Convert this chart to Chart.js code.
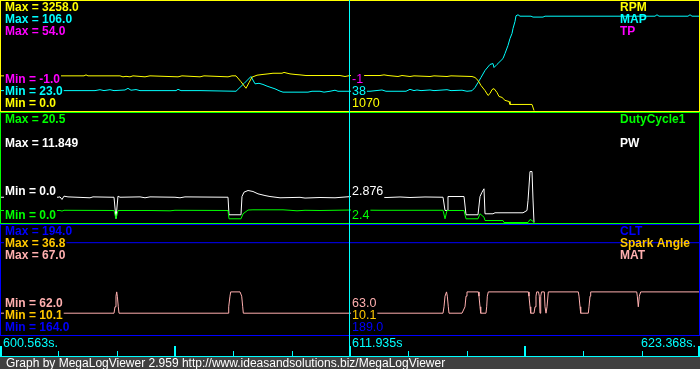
<!DOCTYPE html>
<html>
<head>
<meta charset="utf-8">
<title>MegaLogViewer</title>
<script src="https://cdn.jsdelivr.net/npm/chart.js@4.4.1/dist/chart.umd.min.js"></script>
<style>
  html, body { margin: 0; padding: 0; background: #000; }
  canvas { display: block; }
</style>
</head>
<body>
<canvas id="logChart" width="700" height="369"></canvas>
<script>
// visible time window (s)
const startTime = 600.563;
const endTime = 623.368;
const cursorTime = 611.935;
const timeLabels = ['600.563s.', '611.935s', '623.368s.'];
const footerText = 'Graph by MegaLogViewer 2.959 http://www.ideasandsolutions.biz/MegaLogViewer';

const seriesNames = ['RPM', 'MAP', 'TP', 'DutyCycle1', 'PW', 'CLT', 'Spark Angle', 'MAT'];
const seriesPanel = [0, 0, 0, 1, 1, 2, 2, 2];
const seriesMax = [3258.0, 106.0, 54.0, 20.5, 11.849, 194.0, 36.8, 67.0];
const seriesMin = [0.0, 23.0, -1.0, 0.0, 0.0, 164.0, 10.1, 62.0];
const cursorValues = ['1070', '38', '-1', '2.4', '2.876', '189.0', '10.1', '63.0'];

const rpmTime = [600.563, 601.540, 602.453, 603.300, 603.365, 603.430, 604.472, 604.570, 604.668, 604.798,
  604.896, 605.287, 605.450, 606.362, 606.492, 607.079, 607.209, 607.991, 608.121, 608.252,
  608.414, 608.577, 608.675, 608.773, 608.936, 609.099, 609.294, 609.457, 609.750, 609.815,
  610.011, 610.206, 610.337, 610.532, 611.640, 611.803, 611.966, 612.943, 613.073, 613.204,
  613.529, 613.660, 613.920, 614.051, 614.572, 614.702, 615.126, 615.256, 615.940, 616.038,
  616.136, 616.233, 616.364, 616.462, 616.527, 616.592, 616.657, 616.755, 616.820, 616.918,
  617.015, 617.146, 617.178, 617.895, 617.960];
const rpmValues = [1060, 1060, 1060, 1060, 1090, 1060, 1060, 1030, 1045, 1030,
  1060, 1030, 1060, 1030, 1060, 1030, 1060, 1030, 1060, 1060,
  880, 680, 850, 1020, 1080, 1100, 1120, 1140, 1140, 1165,
  1120, 1100, 1090, 1070, 1070, 1040, 1070, 1070, 1090, 1070,
  1040, 1070, 1040, 1060, 1040, 1060, 1040, 1060, 1040, 1010,
  920, 765, 610, 460, 520, 640, 670, 550, 430, 400,
  310, 275, 185, 185, 0];

const mapTime = [600.563, 602.615, 603.658, 603.821, 603.951, 604.147, 604.277, 604.635, 604.733, 604.831,
  604.994, 605.124, 606.297, 606.362, 606.460, 607.079, 608.252, 608.512, 608.740, 608.871,
  609.001, 609.131, 609.262, 609.359, 609.522, 609.685, 609.783, 610.597, 610.728, 610.988,
  611.119, 611.314, 611.477, 611.575, 611.966, 612.617, 613.008, 613.138, 613.790, 613.920,
  614.051, 614.148, 614.279, 614.572, 614.702, 615.126, 615.256, 615.615, 615.777, 615.940,
  616.038, 616.136, 616.233, 616.364, 616.527, 616.624, 616.657, 616.755, 616.853, 616.950,
  617.015, 617.113, 617.178, 617.243, 617.276, 617.341, 617.374, 617.439, 617.504, 617.862,
  617.928, 618.253, 618.319, 621.902, 621.967, 622.033, 622.977, 623.043, 623.108, 623.368];
const mapValues = [38.5, 38.5, 38.5, 39.2, 38.5, 39.2, 38.5, 39.0, 40.3, 38.8,
  39.3, 38.5, 38.5, 39.5, 38.5, 38.5, 38.0, 44.0, 49.5, 43.8,
  44.2, 43.3, 42.0, 41.2, 39.9, 38.1, 37.3, 37.3, 38.0, 38.0,
  37.3, 38.0, 38.8, 38.0, 38.0, 38.0, 39.0, 38.0, 38.0, 39.5,
  38.5, 39.0, 38.5, 39.0, 38.5, 39.2, 38.5, 38.8, 38.0, 38.4,
  40.9, 44.8, 48.7, 54.2, 58.9, 59.6, 56.5, 58.9, 61.2, 63.5,
  67.4, 73.7, 79.1, 83.0, 86.9, 92.4, 96.8, 97.6, 96.5, 96.5,
  95.8, 95.8, 96.5, 96.5, 97.6, 96.5, 96.5, 97.6, 96.5, 96.5];

const tpTime = [600.563, 623.368];
const tpValues = [-1, -1];

const dutyTime = [600.563, 602.518, 602.583, 602.648, 604.212, 604.277, 604.342, 604.407, 605.450, 606.101,
  606.264, 607.991, 608.024, 608.414, 608.480, 608.643, 608.805, 609.783, 610.011, 610.239,
  610.500, 610.988, 611.966, 612.943, 614.996, 615.061, 615.126, 615.680, 615.745, 616.136,
  616.201, 616.266, 616.331, 616.364, 616.950, 616.983, 617.765, 617.830, 617.895, 617.960];
const dutyValues = [2.31, 2.31, 2.20, 2.35, 2.31, 2.31, 0.71, 2.31, 2.31, 2.25,
  2.35, 2.31, 0.71, 0.71, 1.67, 2.40, 2.44, 2.44, 2.35, 2.25,
  2.35, 2.31, 2.40, 2.35, 2.35, 0.71, 2.31, 2.31, 0.71, 0.71,
  1.67, 1.35, 1.02, 0.38, 0.38, 0, 0, 0.58, 0.38, 0];

const pwTime = [600.563, 602.453, 602.518, 602.583, 602.648, 602.778, 603.495, 603.593, 604.212, 604.277,
  604.342, 604.407, 604.472, 605.124, 605.287, 605.450, 606.264, 606.427, 606.590, 607.991,
  608.024, 608.414, 608.447, 608.512, 608.643, 608.805, 608.968, 609.196, 609.359, 609.685,
  610.337, 610.500, 610.988, 611.477, 611.966, 613.171, 613.595, 613.920, 614.409, 614.996,
  615.061, 615.126, 615.158, 615.680, 615.745, 616.136, 616.201, 616.266, 616.331, 616.364,
  616.624, 616.690, 617.602, 617.732, 617.765, 617.830, 617.895, 617.928, 617.960];
const pwValues = [2.81, 2.81, 2.85, 2.56, 2.93, 2.85, 2.75, 2.85, 2.81, 2.81,
  0.45, 2.93, 2.81, 2.85, 2.75, 2.85, 2.81, 2.75, 2.85, 2.81,
  0.86, 0.86, 2.89, 3.37, 3.56, 3.45, 3.19, 3.00, 2.89, 2.75,
  2.80, 2.72, 2.78, 2.75, 2.88, 2.78, 2.84, 2.78, 2.84, 2.81,
  1.34, 1.34, 2.89, 2.89, 0.86, 0.86, 2.89, 3.37, 3.75, 0.97,
  0.97, 1.08, 1.08, 1.34, 2.45, 5.67, 5.67, 2.50, 0];

const cltTime = [600.563, 623.368];
const cltValues = [189.0, 189.0];

const sparkTime = [600.563, 623.368];
const sparkValues = [10.1, 10.1];

const matTime = [600.563, 604.277, 604.310, 604.342, 604.365, 604.385, 604.417, 604.440, 607.991, 608.014,
  608.056, 608.079, 608.382, 608.437, 608.470, 608.490, 614.996, 615.028, 615.061, 615.110,
  615.136, 615.168, 615.191, 615.615, 615.712, 615.745, 615.777, 616.145, 616.168, 616.201,
  616.224, 616.396, 616.419, 616.439, 616.472, 617.775, 617.797, 617.830, 617.853, 617.960,
  617.993, 618.025, 618.048, 618.107, 618.133, 618.156, 618.179, 618.205, 618.296, 618.319,
  618.351, 618.384, 618.426, 619.404, 619.426, 619.459, 619.481, 619.729, 619.752, 619.785,
  619.807, 621.306, 621.326, 621.358, 621.391, 621.436, 623.368];
const matValues = [63, 63, 63.3, 63.8, 64, 63.8, 63.3, 63, 63, 63.3,
  63.8, 64, 64, 63.8, 63.3, 63, 63, 63.3, 63.8, 64,
  63.8, 63.3, 63, 63, 63.3, 63.8, 64, 64, 63.8, 63.3,
  63, 63, 63.3, 63.8, 64, 64, 63.8, 63.3, 63, 63,
  63.3, 63.8, 64, 64, 63.8, 63, 63.8, 64, 64, 63.3,
  63, 63.3, 64, 64, 63.8, 63.3, 63, 63, 63.3, 63.8,
  64, 64, 63.8, 63.3, 63.8, 64, 64];

const seriesTimes = [rpmTime, mapTime, tpTime, dutyTime, pwTime, cltTime, sparkTime, matTime];
const seriesValues = [rpmValues, mapValues, tpValues, dutyValues, pwValues, cltValues, sparkValues, matValues];

// look
const seriesColors = ['#ffff00', '#00ffff', '#ff00ff', '#00ff00', '#ffffff', '#0000ff', '#ffc800', '#ffafaf'];
const axisLo = [0, 23, -0.5, 0, 0, 164, 10.35, 62];
const axisHi = [3258, 106, 54, 20.5, 11.849, 193, 36.8, 67];
const panelTop = [0, 112, 224];
const panelGap = [12, 24, 12];
const plotHeight = 336;
const boldFont = 'bold 12px "Liberation Sans", Arial, sans-serif';
const plainFont = '12.5px "Liberation Sans", Arial, sans-serif';
const cyan = '#00ffff';

function fmt(v) {
  return Number.isInteger(v) ? v.toFixed(1) : String(v);
}

// text with a black box behind it, like the log viewer does
function tag(ctx, text, x, y, color, font) {
  ctx.font = font;
  const w = ctx.measureText(text).width;
  ctx.fillStyle = '#000';
  ctx.fillRect(x - 1, y - 10, w + 2, 13);
  ctx.fillStyle = color;
  ctx.fillText(text, x, y);
}

const scales = {
  x: { type: 'linear', display: false, bounds: 'data', min: startTime, max: endTime }
};
seriesNames.forEach((name, i) => {
  const top = panelTop[seriesPanel[i]];
  const yHi = top + 4, yLo = top + 110.5;
  const s = (yLo - yHi) / (axisHi[i] - axisLo[i]);
  scales['y' + i] = {
    type: 'linear', display: false, bounds: 'data',
    min: axisLo[i] - (plotHeight - yLo) / s,
    max: axisHi[i] + yHi / s
  };
});

const datasets = seriesNames.map((name, i) => ({
  label: name,
  data: seriesTimes[i].map((t, j) => ({ x: t, y: seriesValues[i][j] })),
  yAxisID: 'y' + i,
  borderColor: seriesColors[i],
  borderWidth: 1,
  pointRadius: 0,
  fill: false,
  tension: 0
}));

const mlvOverlay = {
  id: 'mlvOverlay',
  beforeDraw(chart) {
    const ctx = chart.ctx;
    ctx.save();
    ctx.fillStyle = '#000';
    ctx.fillRect(0, 0, chart.width, chart.height);
    ctx.restore();
  },
  afterDatasetsDraw(chart) {
    const ctx = chart.ctx;
    const xs = chart.scales.x;
    const cx = Math.round(xs.getPixelForValue(cursorTime));
    ctx.save();
    ctx.textBaseline = 'alphabetic';

    // panel frames, colour of the first trace in each
    ctx.lineWidth = 1;
    panelTop.forEach((top, p) => {
      ctx.strokeStyle = seriesColors[seriesPanel.indexOf(p)];
      ctx.strokeRect(0.5, top + 0.5, 699, 111);
    });

    // min/max, names and cursor values
    seriesNames.forEach((name, i) => {
      const p = seriesPanel[i];
      const k = seriesPanel.slice(0, i).filter(q => q === p).length;
      const maxY = panelTop[p] + 11 + k * panelGap[p];
      const minY = panelTop[p] + 107 - k * panelGap[p];
      tag(ctx, 'Max = ' + fmt(seriesMax[i]), 5, maxY, seriesColors[i], boldFont);
      tag(ctx, 'Min = ' + fmt(seriesMin[i]), 5, minY, seriesColors[i], boldFont);
      ctx.font = boldFont;
      ctx.fillStyle = seriesColors[i];
      ctx.fillText(name, 620, maxY);
      tag(ctx, cursorValues[i], cx + 3, minY, seriesColors[i], plainFont);
    });

    // cursor
    ctx.fillStyle = cyan;
    ctx.fillRect(cx, 0, 1, 356);

    // time axis
    ctx.font = plainFont;
    ctx.fillText(timeLabels[0], 3, 347);
    ctx.fillText(timeLabels[1], cx + 3, 347);
    ctx.textAlign = 'right';
    ctx.fillText(timeLabels[2], 696, 347);
    ctx.textAlign = 'left';
    for (let k = 0; k <= 12; k++) {
      const px = Math.round(xs.getPixelForValue(startTime + k * (endTime - startTime) / 12));
      if (k % 3 === 0) {
        ctx.fillRect(Math.min(Math.max(px - 1, 0), 698), 346, 2, 10);
      } else {
        ctx.fillRect(px, 351, 1, 5);
      }
    }
    ctx.fillRect(0, 356, 700, 1);

    // footer
    ctx.fillStyle = '#404040';
    ctx.fillRect(0, 357, 700, 12);
    ctx.fillStyle = '#ffffff';
    ctx.font = '12px "Liberation Sans", Arial, sans-serif';
    ctx.fillText(footerText, 6, 367);
    ctx.restore();
  }
};

new Chart(document.getElementById('logChart'), {
  type: 'line',
  data: { datasets },
  options: {
    responsive: false,
    animation: false,
    devicePixelRatio: 1,
    events: [],
    layout: { padding: { left: 0, right: 0, top: 0, bottom: 369 - plotHeight } },
    plugins: { legend: { display: false }, tooltip: { enabled: false } },
    scales
  },
  plugins: [mlvOverlay]
});
</script>
</body>
</html>
